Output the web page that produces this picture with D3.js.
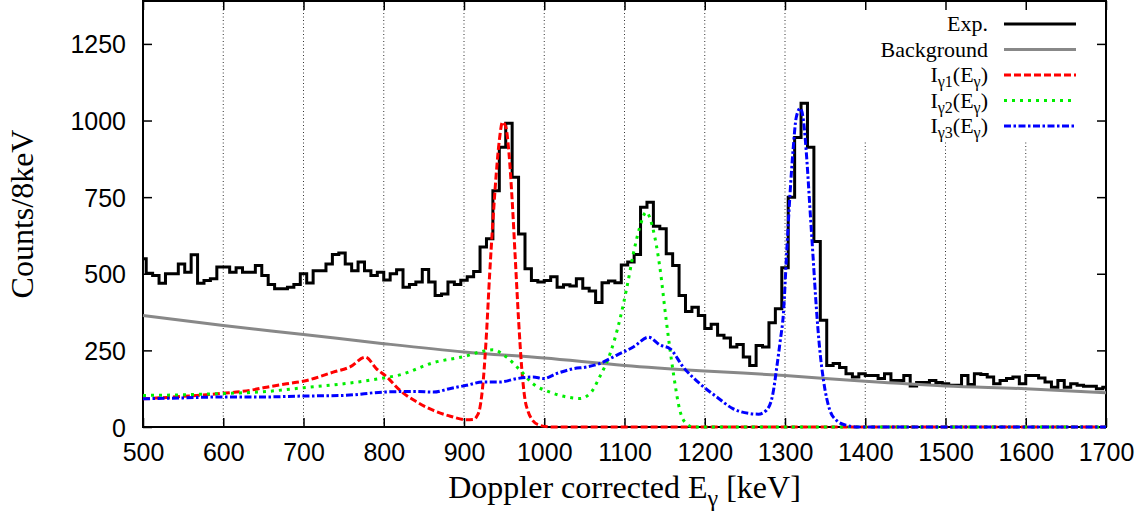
<!DOCTYPE html>
<html>
<head>
<meta charset="utf-8">
<script src="https://cdn.jsdelivr.net/npm/d3@7"></script>
<style>
body { margin: 0; background: #fff; }
svg { display: block; }
</style>
</head>
<body>
<svg width="1148" height="519"></svg>
<script>
// ---- data ----

// experimental histogram, 8 keV bins, first bin centred on 500 keV
var expStart = 500, expBin = 8;
var expCounts = [
  549, 502, 494, 469, 500, 500, 532, 505, 562, 469,
  478, 484, 522, 522, 505, 520, 505, 505, 527, 494,
  465, 451, 451, 456, 465, 500, 470, 510, 510, 532,
  563, 568, 532, 510, 538, 510, 494, 505, 480, 500,
  513, 456, 465, 473, 514, 473, 429, 434, 473, 465,
  479, 490, 507, 587, 614, 771, 913, 991, 815, 630,
  516, 478, 473, 478, 490, 456, 464, 460, 484, 453,
  444, 406, 471, 476, 471, 529, 538, 563, 717, 733,
  655, 647, 565, 527, 429, 377, 391, 364, 321, 335,
  299, 290, 261, 269, 228, 201, 266, 261, 340, 386,
  520, 750, 945, 1056, 913, 605, 348, 201, 207, 194,
  174, 163, 174, 168, 168, 158, 174, 152, 152, 168,
  134, 145, 145, 152, 145, 141, 136, 136, 168, 139,
  174, 171, 163, 141, 152, 158, 163, 141, 168, 168,
  160, 147, 130, 152, 130, 141, 136, 133, 133, 125,
  130
];

// background
var bgEnergy = [500, 600, 700, 800, 900, 1000, 1100, 1200, 1300, 1400, 1500, 1600, 1700];
var bgCounts = [364, 331, 302, 272, 245, 225, 201, 183, 168, 149, 134, 125, 112];

// I_gamma1
var g1Energy = [500, 550, 596, 634, 654, 679, 704, 737, 758, 777, 791, 804, 820, 841, 862, 883, 903, 912, 916,
                920, 924, 928, 932, 936, 940, 944, 948, 952, 956, 960, 964, 968, 972, 976, 980, 986, 995, 1010, 1700];
var g1Counts = [92, 100, 109, 120, 130, 141, 152, 179, 196, 228, 190, 163, 120, 82, 54, 35, 24, 25, 35,
                65, 152, 304, 500, 670, 820, 935, 995, 980, 895, 740, 545, 350, 190, 90, 50, 20, 5, 0, 0];

// I_gamma2
var g2Energy = [500, 550, 596, 650, 700, 750, 800, 820, 862, 903, 920, 936, 953, 970, 986, 1007, 1028, 1044,
                1057, 1069, 1082, 1094, 1103, 1111, 1119, 1127, 1136, 1144, 1152, 1161, 1169, 1177, 1186, 1700];
var g2Counts = [103, 105, 109, 115, 128, 141, 160, 170, 210, 232, 245, 252, 228, 185, 141, 114, 98, 93,
                109, 163, 239, 348, 456, 565, 652, 701, 641, 522, 348, 174, 54, 11, 0, 0];

// I_gamma3
var g3Energy = [500, 550, 600, 650, 700, 750, 800, 840, 862, 882, 903, 924, 945, 966, 986, 999, 1015, 1036,
                1053, 1069, 1090, 1111, 1130, 1144, 1157, 1173, 1194, 1215, 1235, 1256, 1267, 1277, 1285,
                1290, 1294, 1298, 1302, 1306, 1310, 1314, 1319, 1323, 1327, 1331, 1335, 1339, 1343, 1348,
                1356, 1364, 1377, 1390, 1700];
var g3Counts = [92, 95, 98, 98, 101, 103, 114, 116, 114, 125, 136, 147, 147, 158, 163, 158, 174, 190,
                196, 207, 234, 261, 293, 268, 255, 196, 141, 98, 60, 44, 42, 55, 110,
                200, 280, 370, 565, 750, 902, 1010, 1040, 1000, 880, 717, 554, 391, 261, 152,
                54, 22, 5, 0, 0];

var xTicks = [500, 600, 700, 800, 900, 1000, 1100, 1200, 1300, 1400, 1500, 1600, 1700];
var yTicks = [0, 250, 500, 750, 1000, 1250];

// legend entries: pieces of text, true = subscript
var legendLabels = [
  [["Exp.", false]],
  [["Background", false]],
  [["I", false], ["\u03b31", true], ["(E", false], ["\u03b3", true], [")", false]],
  [["I", false], ["\u03b32", true], ["(E", false], ["\u03b3", true], [")", false]],
  [["I", false], ["\u03b33", true], ["(E", false], ["\u03b3", true], [")", false]]
];

// ---- drawing ----
var svg = d3.select("svg"),
    width = +svg.attr("width"),
    height = +svg.attr("height");

var sans = "'Liberation Sans', Arial, Helvetica, sans-serif";
var serif = "'Liberation Serif', 'Times New Roman', serif";

var x = d3.scaleLinear().domain([500, 1700]).range([143, 1106]);
var y = d3.scaleLinear().domain([0, 1390]).range([427, 1]);

var plotTop = y.range()[1], plotBottom = y.range()[0];
var plotLeft = x.range()[0], plotRight = x.range()[1];

// legend box (grid is not drawn behind it)
var legendLeft = 855, legendBottom = 141;

// dotted vertical grid
svg.append("g")
  .selectAll("line")
  .data(xTicks.slice(1, -1))
  .enter()
  .append("line")
    .attr("x1", d => x(d))
    .attr("x2", d => x(d))
    .attr("y1", plotBottom)
    .attr("y2", d => x(d) > legendLeft ? legendBottom : plotTop)
    .attr("stroke", "#333")
    .attr("stroke-width", 1)
    .attr("stroke-dasharray", "1,2.5");

// frame
svg.append("rect")
  .attr("x", plotLeft)
  .attr("y", plotTop)
  .attr("width", plotRight - plotLeft)
  .attr("height", plotBottom - plotTop)
  .attr("fill", "none")
  .attr("stroke", "#000")
  .attr("stroke-width", 2);

// axes, ticks pointing inwards, mirrored on top and right
var fmt = d3.format("d");
var xAxis = svg.append("g")
  .attr("transform", "translate(0," + plotBottom + ")")
  .call(d3.axisBottom(x).tickValues(xTicks).tickSize(-9).tickPadding(16).tickFormat(fmt));
var xAxisTop = svg.append("g")
  .attr("transform", "translate(0," + plotTop + ")")
  .call(d3.axisTop(x).tickValues(xTicks).tickSize(-9).tickFormat(""));
var yAxis = svg.append("g")
  .attr("transform", "translate(" + plotLeft + ",0)")
  .call(d3.axisLeft(y).tickValues(yTicks).tickSize(-9).tickPadding(17).tickFormat(fmt));
var yAxisRight = svg.append("g")
  .attr("transform", "translate(" + plotRight + ",0)")
  .call(d3.axisRight(y).tickValues(yTicks).tickSize(-9).tickFormat(""));

[xAxis, xAxisTop, yAxis, yAxisRight].forEach(a => {
  a.select(".domain").remove();
  a.selectAll(".tick line").attr("stroke", "#000").attr("stroke-width", 1.5);
  a.selectAll(".tick text")
    .attr("fill", "#000")
    .style("font-family", sans)
    .style("font-size", "25px");
});
yAxis.selectAll(".tick text").attr("dy", "0.36em");

// curves
var smooth = d3.line()
  .x(d => x(d[0]))
  .y(d => y(d[1]))
  .curve(d3.curveMonotoneX);

var hist = d3.line()
  .x(d => x(d[0]))
  .y(d => y(d[1]))
  .curve(d3.curveStep);

var styles = [
  { color: "#000000", dash: null },
  { color: "#888888", dash: null },
  { color: "#ff0000", dash: "7,3" },
  { color: "#00ee00", dash: "3,5" },
  { color: "#0000ff", dash: "7,2.5,2.5,2.5" }
];

var series = [
  { data: expCounts.map((c, i) => [expStart + i * expBin, c]), gen: hist },
  { data: bgEnergy.map((e, i) => [e, bgCounts[i]]), gen: smooth },
  { data: g1Energy.map((e, i) => [e, g1Counts[i]]), gen: smooth },
  { data: g2Energy.map((e, i) => [e, g2Counts[i]]), gen: smooth },
  { data: g3Energy.map((e, i) => [e, g3Counts[i]]), gen: smooth }
];

series.forEach((s, i) => {
  svg.append("path")
    .attr("d", s.gen(s.data))
    .attr("fill", "none")
    .attr("stroke", styles[i].color)
    .attr("stroke-width", 3)
    .attr("stroke-linejoin", "miter")
    .attr("stroke-dasharray", styles[i].dash);
});

// legend
var legendRowY = d3.scaleLinear().domain([0, 4]).range([24, 126]);
var legend = svg.append("g");

legendLabels.forEach((parts, i) => {
  var t = legend.append("text")
    .attr("x", 988)
    .attr("y", legendRowY(i) + 7)
    .attr("text-anchor", "end")
    .style("font-family", serif)
    .style("font-size", "22px");
  var shifted = false;
  parts.forEach(p => {
    var span = t.append("tspan").text(p[0]);
    if (p[1] && !shifted) { span.attr("dy", 5).style("font-size", "16px"); shifted = true; }
    else if (p[1]) { span.style("font-size", "16px"); }
    else if (shifted) { span.attr("dy", -5); shifted = false; }
  });

  legend.append("line")
    .attr("x1", 1004)
    .attr("x2", 1076)
    .attr("y1", legendRowY(i))
    .attr("y2", legendRowY(i))
    .attr("stroke", styles[i].color)
    .attr("stroke-width", 3)
    .attr("stroke-dasharray", styles[i].dash);
});

// axis titles
var xTitle = svg.append("text")
  .attr("x", (plotLeft + plotRight) / 2)
  .attr("y", 498)
  .attr("text-anchor", "middle")
  .style("font-family", serif)
  .style("font-size", "32px");
xTitle.append("tspan").text("Doppler corrected E");
xTitle.append("tspan").text("\u03b3").attr("dy", 8).style("font-size", "24px");
xTitle.append("tspan").text(" [keV]").attr("dy", -8);

svg.append("text")
  .attr("transform", "translate(33," + (plotTop + plotBottom) / 2 + ") rotate(-90)")
  .attr("text-anchor", "middle")
  .style("font-family", serif)
  .style("font-size", "32px")
  .text("Counts/8keV");
</script>
</body>
</html>
